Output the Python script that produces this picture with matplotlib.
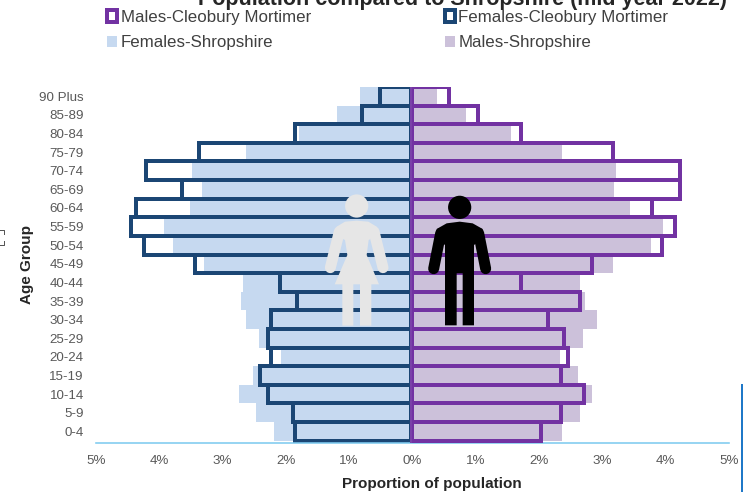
import numpy as np
import matplotlib
matplotlib.use('Agg')
import matplotlib.pyplot as plt
from matplotlib.patches import Circle, Polygon

plt.rcParams['font.family'] = ['Liberation Sans', 'DejaVu Sans']

# top to bottom as in the picture
age_groups = ['90 Plus', '85-89', '80-84', '75-79', '70-74', '65-69', '60-64', '55-59', '50-54', '45-49',
              '40-44', '35-39', '30-34', '25-29', '20-24', '15-19', '10-14', '5-9', '0-4']
females_shropshire = [0.83, 1.19, 1.80, 2.63, 3.49, 3.33, 3.51, 3.93, 3.78, 3.29,
                      2.68, 2.71, 2.63, 2.42, 2.08, 2.52, 2.74, 2.47, 2.19]
males_shropshire = [0.39, 0.85, 1.55, 2.36, 3.22, 3.19, 3.43, 3.95, 3.77, 3.16,
                    2.65, 2.73, 2.91, 2.70, 2.33, 2.62, 2.83, 2.65, 2.36]
females_cleobury = [0.48, 0.77, 1.83, 3.34, 4.18, 3.61, 4.34, 4.42, 4.21, 3.40,
                    2.07, 1.80, 2.20, 2.25, 2.20, 2.38, 2.25, 1.86, 1.83]
males_cleobury = [0.58, 1.04, 1.72, 3.16, 4.23, 4.23, 3.78, 4.15, 3.94, 2.84,
                  1.72, 2.64, 2.14, 2.39, 2.45, 2.35, 2.71, 2.35, 2.03]
x_ticks = [-5, -4, -3, -2, -1, 0, 1, 2, 3, 4, 5]

W, H = 743, 492
navy = '#1b4674'
purple = '#7232a2'
px = 72 / 100  # one pixel in points

fig = plt.figure(figsize=(W / 100, H / 100), dpi=100)
ax = fig.add_axes([96 / W, 1 - 442.5 / H, (729 - 96) / W, (442.5 - 87) / H])

y = np.arange(len(age_groups))[::-1]
f_shrop = ax.barh(y, -np.array(females_shropshire), height=1, color='#c6d9f0', zorder=1)
m_shrop = ax.barh(y, males_shropshire, height=1, color='#ccc1da', zorder=1)
f_cleo = ax.barh(y, -np.array(females_cleobury), height=1, left=-0.03, facecolor='none',
                 edgecolor=navy, linewidth=4 * px, zorder=2)
m_cleo = ax.barh(y, males_cleobury, height=1, facecolor='none',
                 edgecolor=purple, linewidth=4 * px, zorder=3)
ax.axvline(-0.03, color='#7d45ab', linewidth=1.6 * px, zorder=4)

ax.set_xlim(-5, 5)
ax.set_ylim(-0.6, 18.5)
ax.set_yticks(y)
ax.set_yticklabels(age_groups, fontsize=9.6, color='#595959')
ax.set_xticks(x_ticks)
ax.set_xticklabels([f'{abs(t)}%' for t in x_ticks], fontsize=9.6, color='#595959')
ax.tick_params(length=0, axis='both')
ax.tick_params(axis='x', pad=9)
ax.tick_params(axis='y', pad=8.8)
for s in ['top', 'left', 'right']:
    ax.spines[s].set_visible(False)
ax.spines['bottom'].set_color('#7fcbf0')
ax.spines['bottom'].set_linewidth(1.6 * px)
ax.set_zorder(1)

# overlay in pixel coordinates for the text placed by hand and the icons
ov = fig.add_axes([0, 0, 1, 1], zorder=5)
ov.set_xlim(0, W)
ov.set_ylim(H, 0)
ov.axis('off')

ov.text(463, 5, 'Population compared to Shropshire (mid year 2022)', ha='center', va='baseline',
        fontsize=15.5, fontweight='bold', color='#262626')
ov.text(432, 484, 'Proportion of population', ha='center', va='center',
        fontsize=11, fontweight='bold', color='#262626')
ov.text(27, 264, 'Age Group', ha='center', va='center', rotation=90,
        fontsize=11, fontweight='bold', color='#262626')

# legend
leg = fig.legend([m_cleo, f_shrop, f_cleo, m_shrop],
                 ['Males-Cleobury Mortimer', 'Females-Shropshire', 'Females-Cleobury Mortimer', 'Males-Shropshire'],
                 ncol=2, frameon=False, fontsize=12.2, labelcolor='#404040',
                 bbox_to_anchor=(107 / W, 1 - 10 / H), loc='upper left', borderaxespad=0, borderpad=0,
                 handlelength=0.6, handleheight=0.66, handletextpad=0.2, labelspacing=0.6, columnspacing=7.9)
leg.set_zorder(6)


# icons: coordinates taken from a 3x crop whose corner is at (310, 185)
def zx(v):
    return 310 + v / 3


def zy(v):
    return 185 + v / 3


def shape(points, color):
    ov.add_patch(Polygon([(zx(a), zy(b)) for a, b in points], closed=True, color=color, lw=0))


def arm(x0, y0, x1, y1, color):
    ov.plot([zx(x0), zx(x1)], [zy(y0), zy(y1)], color=color, lw=11 * px, solid_capstyle='round')


woman = '#e6e6e6'
ov.add_patch(Circle((zx(140), zy(63)), 11.6, color=woman, lw=0))
shape([(140, 107), (105, 110), (80, 125), (75, 150), (105, 165), (112, 210), (74, 298), (97, 298), (97, 422),
       (130, 422), (130, 298), (150, 298), (150, 422), (184, 422), (184, 298), (207, 298), (170, 210),
       (176, 165), (205, 150), (200, 125), (175, 110)], woman)
arm(88, 140, 61, 248, woman)
arm(192, 140, 219, 248, woman)

man = '#000000'
ov.add_patch(Circle((zx(449), zy(67)), 11.6, color=man, lw=0))
shape([(449, 110), (410, 115), (380, 132), (378, 160), (405, 180), (405, 421), (440, 421), (440, 265), (458, 265),
       (458, 421), (492, 421), (492, 180), (520, 160), (518, 132), (488, 115)], man)
arm(392, 145, 371, 251, man)
arm(506, 145, 527, 251, man)

# stray marks at the picture's edges
ov.plot([0, 4, 4], [230, 230, 234], color='#555555', lw=1 * px, clip_on=False)
ov.plot([0, 4, 4], [245, 245, 241], color='#555555', lw=1 * px, clip_on=False)
ov.plot([742, 742], [385, 492], color='#1f78c8', lw=2 * px)

fig.savefig('out.png', dpi=100)
